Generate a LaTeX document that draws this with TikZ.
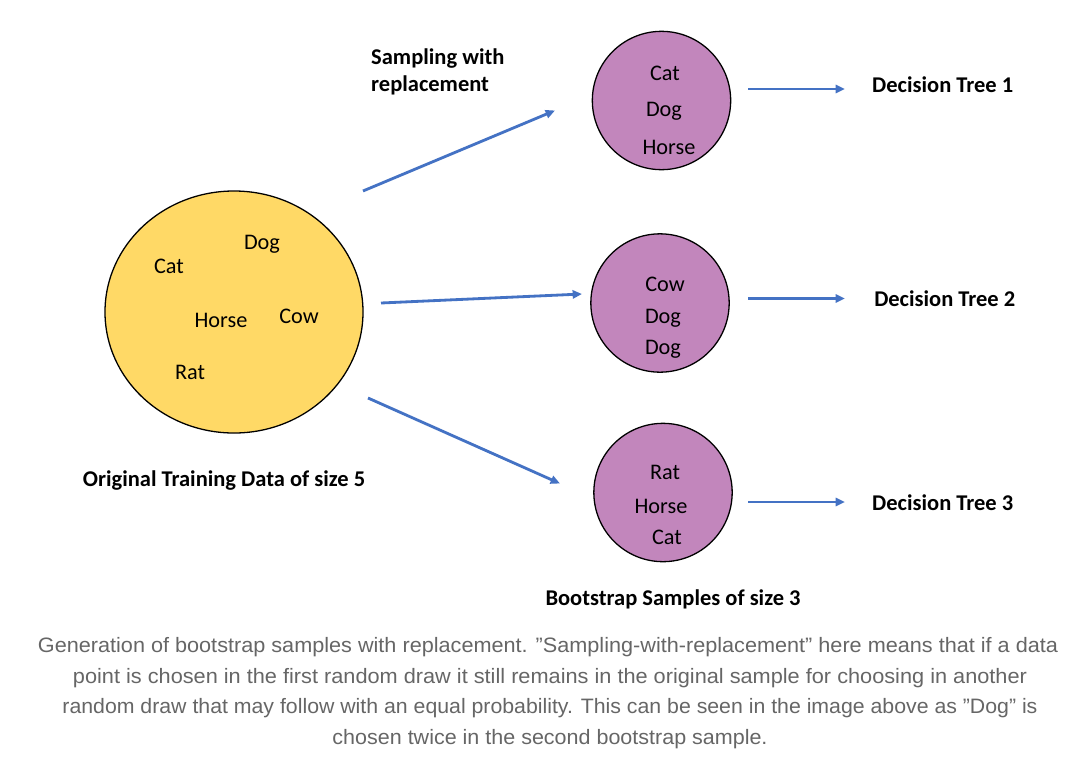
\documentclass[tikz,border=0pt]{standalone}
\usepackage{fontspec}
\usepackage{graphicx}
\setmainfont{Carlito}
\newfontfamily\capfont{Liberation Sans}
\usetikzlibrary{arrows.meta,shapes.geometric}
\definecolor{sunyellow}{RGB}{255,217,102}
\definecolor{mauve}{RGB}{194,134,188}
\definecolor{arrowblue}{RGB}{68,114,196}
\definecolor{capgray}{RGB}{102,102,102}
\tikzset{
  item/.style={font=\fontsize{19}{22}\selectfont, inner sep=0pt, anchor=mid, yshift=-0.15cm},
  boldlabel/.style={font=\fontsize{19.2}{23}\selectfont\bfseries, inner sep=0pt, anchor=mid, yshift=-0.15cm},
  bigpool/.style={ellipse, draw=black, line width=1.1pt, fill=sunyellow, minimum width=7.74cm, minimum height=7.26cm, inner sep=0pt},
  sample/.style={ellipse, draw=black, line width=1.1pt, fill=mauve, minimum width=4.15cm, minimum height=4.15cm, inner sep=0pt},
  flow/.style={draw=arrowblue, line width=2.4pt, -{Triangle[length=8pt,width=7pt]}},
  capline/.style={font=\capfont\fontsize{17.8}{21}\selectfont, text=capgray, inner sep=0pt, anchor=mid, yshift=-0.13cm}
}
\newcommand{\capw}[2]{\resizebox{#1}{\height}{#2}}
\begin{document}
\begin{tikzpicture}[x=0.03cm, y=-0.03cm]
\useasboundingbox[fill=white] (0,0) rectangle (1077,780);

% original data
\node[bigpool] (pool) at (234,312) {};
\node[item] (pcat) at (169,266) {Cat};
\node[item] (pdog) at (262,242) {Dog};
\node[item] (phorse) at (221,320) {Horse};
\node[item] (pcow) at (299,316) {Cow};
\node[item] (prat) at (190,372) {Rat};
\node[boldlabel] (origlbl) at (224,479) {Original Training Data of size 5};

% sampling label
\node[boldlabel, anchor=west] (samp1) at (371,54) {Sampling with};
\node[boldlabel, anchor=west] (samp2) at (371,80) {replacement};

% bootstrap samples
\node[sample] (s1) at (661.5,100.5) {};
\node[item] (s1a) at (665,73) {Cat};
\node[item] (s1b) at (664,109) {Dog};
\node[item] (s1c) at (669,147) {Horse};

\node[sample] (s2) at (660,303) {};
\node[item] (s2a) at (665,284) {Cow};
\node[item] (s2b) at (663,316) {Dog};
\node[item] (s2c) at (663,347) {Dog};

\node[sample] (s3) at (663,492.5) {};
\node[item] (s3a) at (665,472) {Rat};
\node[item] (s3b) at (661,506) {Horse};
\node[item] (s3c) at (667,537) {Cat};

\node[boldlabel] (bootlbl) at (673,598) {Bootstrap Samples of size 3};

% decision trees
\node[boldlabel, anchor=west] (t1) at (872,80) {Decision Tree 1};
\node[boldlabel, anchor=west] (t2) at (874,294) {Decision Tree 2};
\node[boldlabel, anchor=west] (t3) at (872,498) {Decision Tree 3};

% arrow end points
\coordinate (a1s) at (363,191);
\coordinate (a1e) at (555,110.5);
\coordinate (a2s) at (381,303);
\coordinate (a2e) at (582,294);
\coordinate (a3s) at (368,398);
\coordinate (a3e) at (560,483.5);
\coordinate (b1s) at (748,89);
\coordinate (b1e) at (845,89);
\coordinate (b2s) at (748,298.5);
\coordinate (b2e) at (845,298.5);
\coordinate (b3s) at (748,502);
\coordinate (b3e) at (845,502);

\draw[flow] (a1s) -- (a1e);
\draw[flow] (a2s) -- (a2e);
\draw[flow] (a3s) -- (a3e);
\draw[flow, line width=2.2pt] (b1s) -- (b1e);
\draw[flow, line width=2.2pt] (b2s) -- (b2e);
\draw[flow, line width=2.2pt] (b3s) -- (b3e);

% caption
\node[capline] (cap1) at (548,645) {\capw{30.6cm}{Generation of bootstrap samples with replacement. ”Sampling-with-replacement” here means that if a data}};
\node[capline] (cap2) at (550,676) {\capw{28.62cm}{point is chosen in the first random draw it still remains in the original sample for choosing in another}};
\node[capline] (cap3) at (550,706) {\capw{29.25cm}{random draw that may follow with an equal probability. This can be seen in the image above as ”Dog” is}};
\node[capline] (cap4) at (550,737) {\capw{13.05cm}{chosen twice in the second bootstrap sample.}};
\end{tikzpicture}
\end{document}
